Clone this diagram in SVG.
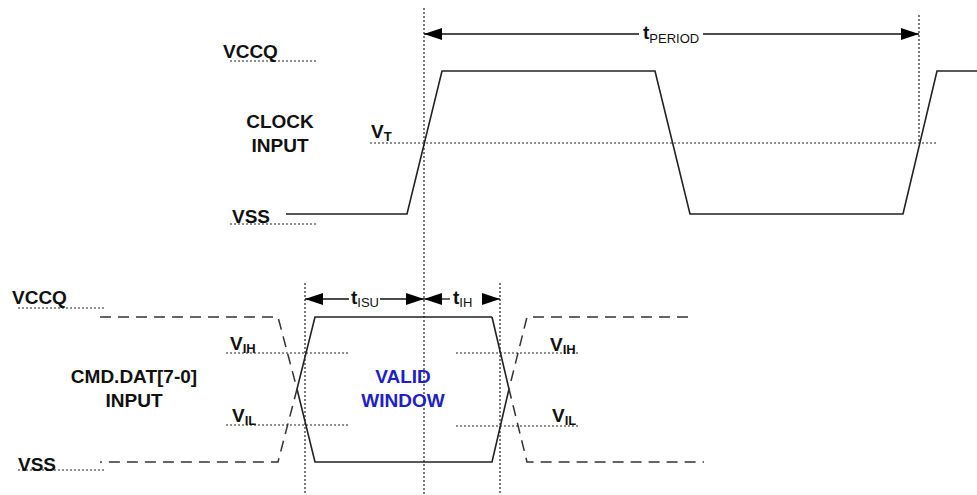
<svg xmlns="http://www.w3.org/2000/svg" width="977" height="495" viewBox="0 0 977 495">
<style>
.lbl{font-family:"Liberation Sans",Arial,sans-serif;font-size:19px;font-weight:bold;fill:#111}
.sub{font-size:13px}
.subn{font-size:13px;font-weight:normal}
.blue{fill:#2020c8}
.dot{stroke:#222;stroke-width:1.2;stroke-dasharray:2 2;fill:none}
.wave{stroke:#222;stroke-width:1.6;fill:none;stroke-linejoin:miter}
.dash{stroke:#333;stroke-width:1.5;stroke-dasharray:11 7;fill:none}
.dim{stroke:#111;stroke-width:1.3;fill:none}
</style>
<defs>
<marker id="ah" viewBox="0 0 18 12" refX="18" refY="6" markerWidth="18" markerHeight="12" markerUnits="userSpaceOnUse" orient="auto-start-reverse">
<path d="M0,0 L18,6 L0,12 Z" fill="#000"/>
</marker>
</defs>
<rect width="977" height="495" fill="#fff"/>

<g id="guides">
<line class="dot" x1="424" y1="8" x2="424" y2="495"/>
<line class="dot" x1="919" y1="15" x2="919" y2="143"/>
<line class="dot" x1="305" y1="283" x2="305" y2="495"/>
<line class="dot" x1="500" y1="283" x2="500" y2="495"/>
<line class="dot" x1="230" y1="61" x2="318" y2="61"/>
<line class="dot" x1="230" y1="224" x2="318" y2="224"/>
<line class="dot" x1="370" y1="143" x2="938" y2="143"/>
<line class="dot" x1="18" y1="308" x2="105" y2="308"/>
<line class="dot" x1="18" y1="470" x2="105" y2="470"/>
<line class="dot" x1="226" y1="353" x2="350" y2="353"/>
<line class="dot" x1="226" y1="425" x2="350" y2="425"/>
<line class="dot" x1="456" y1="353" x2="580" y2="353"/>
<line class="dot" x1="456" y1="426" x2="580" y2="426"/>
</g>

<g id="clock">
<polyline class="wave" points="286,214 407,214 442,71 655,71 690,214 903,214 937,71 977,71"/>
</g>

<g id="data">
<polyline class="wave" points="492,317 315,317 297,389 315,462 492,462 509,389 492,317"/>
<polyline class="dash" points="100,317 278,317 297,389 278,462 100,462"/>
<polyline class="dash" points="688,317 527,317 509,389 527,462 704,462"/>
</g>

<g id="connectors">
<line class="dim" x1="424" y1="34" x2="639" y2="34" marker-start="url(#ah)"/>
<line class="dim" x1="703" y1="34" x2="919" y2="34" marker-end="url(#ah)"/>
<line class="dim" x1="305" y1="299" x2="349" y2="299" marker-start="url(#ah)"/>
<line class="dim" x1="380" y1="299" x2="424" y2="299" marker-end="url(#ah)"/>
<line class="dim" x1="424" y1="299" x2="450" y2="299" marker-start="url(#ah)"/>
<line class="dim" x1="482" y1="299" x2="500" y2="299" marker-end="url(#ah)"/>
</g>

<g id="labels">
<text class="lbl" x="223" y="58">VCCQ</text>
<text class="lbl" x="232" y="223">VSS</text>
<text class="lbl" x="280" y="128" text-anchor="middle">CLOCK</text>
<text class="lbl" x="280" y="152" text-anchor="middle">INPUT</text>
<text class="lbl" x="371" y="138">V<tspan class="sub" dy="3">T</tspan></text>
<text class="lbl" x="643" y="39">t<tspan class="subn" dy="4">PERIOD</tspan></text>
<text class="lbl" x="12" y="304">VCCQ</text>
<text class="lbl" x="18" y="471">VSS</text>
<text class="lbl" x="134" y="383" text-anchor="middle">CMD.DAT[7-0]</text>
<text class="lbl" x="134" y="407" text-anchor="middle">INPUT</text>
<text class="lbl" x="230" y="350">V<tspan class="sub" dy="3">IH</tspan></text>
<text class="lbl" x="232" y="422">V<tspan class="sub" dy="3">IL</tspan></text>
<text class="lbl" x="550" y="351">V<tspan class="sub" dy="3">IH</tspan></text>
<text class="lbl" x="552" y="422">V<tspan class="sub" dy="3">IL</tspan></text>
<text class="lbl" x="351" y="304">t<tspan class="subn" dy="3">ISU</tspan></text>
<text class="lbl" x="453" y="304">t<tspan class="subn" dy="3">IH</tspan></text>
<text class="lbl blue" x="403" y="383" text-anchor="middle">VALID</text>
<text class="lbl blue" x="403" y="407" text-anchor="middle">WINDOW</text>
</g>
</svg>
